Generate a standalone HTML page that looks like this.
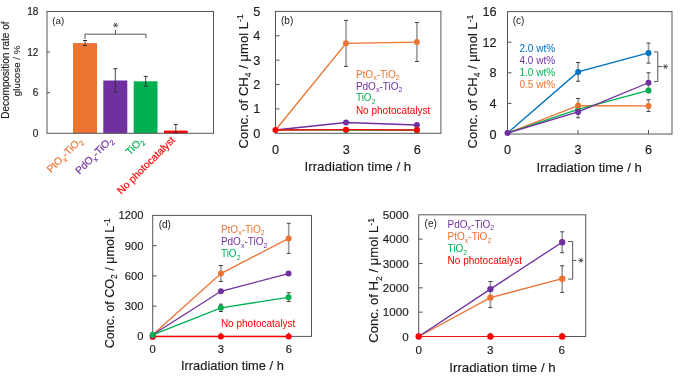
<!DOCTYPE html>
<html><head><meta charset="utf-8"><style>
html,body{margin:0;padding:0;background:#fff;}
svg{display:block;filter:blur(0.3px);}
text{font-family:"Liberation Sans",sans-serif;stroke-width:0.15px;}
</style></head><body>
<svg width="685" height="385" viewBox="0 0 685 385" font-family="Liberation Sans, sans-serif">
<rect width="685" height="385" fill="#fff"/>
<line x1="47" y1="92.70" x2="50" y2="92.70" stroke="#555555" stroke-width="1"/>
<line x1="47" y1="52.10" x2="50" y2="52.10" stroke="#555555" stroke-width="1"/>
<text x="38.3" y="136.9" font-size="10" fill="#1a1a1a" stroke="#1a1a1a" text-anchor="end" >0</text>
<text x="38.3" y="96.3" font-size="10" fill="#1a1a1a" stroke="#1a1a1a" text-anchor="end" >6</text>
<text x="38.3" y="55.7" font-size="10" fill="#1a1a1a" stroke="#1a1a1a" text-anchor="end" >12</text>
<text x="38.3" y="15.1" font-size="10" fill="#1a1a1a" stroke="#1a1a1a" text-anchor="end" >18</text>
<rect x="73" y="43.1" width="24.0" height="90.2" fill="#EB7433"/>
<rect x="103.3" y="80.5" width="24.0" height="52.8" fill="#7030A0"/>
<rect x="133.7" y="81.3" width="23.8" height="52.0" fill="#00B050"/>
<rect x="164" y="130.6" width="23.7" height="2.7" fill="#FF0000"/>
<rect x="47" y="11.5" width="166.5" height="121.80000000000001" fill="none" stroke="#555555" stroke-width="1"/>
<line x1="85" y1="40.5" x2="85" y2="45.5" stroke="#333" stroke-width="0.9"/>
<line x1="83" y1="40.5" x2="87" y2="40.5" stroke="#333" stroke-width="1"/>
<line x1="83" y1="45.5" x2="87" y2="45.5" stroke="#333" stroke-width="1"/>
<line x1="115.3" y1="68.7" x2="115.3" y2="92.3" stroke="#333" stroke-width="0.9"/>
<line x1="113.3" y1="68.7" x2="117.3" y2="68.7" stroke="#333" stroke-width="1"/>
<line x1="113.3" y1="92.3" x2="117.3" y2="92.3" stroke="#333" stroke-width="1"/>
<line x1="145.7" y1="76.4" x2="145.7" y2="86.2" stroke="#333" stroke-width="0.9"/>
<line x1="143.7" y1="76.4" x2="147.7" y2="76.4" stroke="#333" stroke-width="1"/>
<line x1="143.7" y1="86.2" x2="147.7" y2="86.2" stroke="#333" stroke-width="1"/>
<line x1="175.8" y1="124.4" x2="175.8" y2="133" stroke="#333" stroke-width="0.9"/>
<line x1="173.8" y1="124.4" x2="177.8" y2="124.4" stroke="#333" stroke-width="1"/>
<line x1="173.8" y1="133" x2="177.8" y2="133" stroke="#333" stroke-width="1"/>
<path d="M85,39 V34.2 H146 V38.2 M115.5,34.2 V29.8" fill="none" stroke="#555555" stroke-width="1"/>
<path d="M113.00,25.20 L118.20,25.20 M114.30,22.95 L116.90,27.45 M116.90,22.95 L114.30,27.45 " stroke="#444" stroke-width="0.9" fill="none"/>
<text x="52.3" y="23.9" font-size="9.8" fill="#1a1a1a"  text-anchor="start" >(a)</text>
<text transform="translate(8.7,70.1) rotate(-90)" font-size="10" fill="#1a1a1a" stroke="#1a1a1a" text-anchor="middle">Decomposition rate of</text>
<text transform="translate(19.9,70.8) rotate(-90)" font-size="9.8" fill="#1a1a1a" stroke="#1a1a1a" text-anchor="middle">glucose / %</text>
<text transform="translate(82.8,141.5) rotate(-45)" font-size="10.3" fill="#EB7433" stroke="#EB7433" text-anchor="end">PtO<tspan font-size="7.21" dy="2.78">x</tspan><tspan dy="-2.78">-TiO</tspan><tspan font-size="7.21" dy="2.78">2</tspan></text>
<text transform="translate(113.3,141) rotate(-45)" font-size="10.3" fill="#7030A0" stroke="#7030A0" text-anchor="end">PdO<tspan font-size="7.21" dy="2.78">x</tspan><tspan dy="-2.78">-TiO</tspan><tspan font-size="7.21" dy="2.78">2</tspan></text>
<text transform="translate(144.2,141.5) rotate(-45)" font-size="10.3" fill="#00B050" stroke="#00B050" text-anchor="end">TiO<tspan font-size="7.21" dy="2.78">2</tspan></text>
<text transform="translate(175.6,140.6) rotate(-45)" font-size="10.3" fill="#FF0000" stroke="#FF0000" text-anchor="end">No photocatalyst</text>
<line x1="275.5" y1="108.92" x2="279.5" y2="108.92" stroke="#555555" stroke-width="1"/>
<line x1="275.5" y1="84.54" x2="279.5" y2="84.54" stroke="#555555" stroke-width="1"/>
<line x1="275.5" y1="60.16" x2="279.5" y2="60.16" stroke="#555555" stroke-width="1"/>
<line x1="275.5" y1="35.78" x2="279.5" y2="35.78" stroke="#555555" stroke-width="1"/>
<line x1="346.39" y1="133.3" x2="346.39" y2="129.3" stroke="#555555" stroke-width="1"/>
<line x1="417.27" y1="133.3" x2="417.27" y2="129.3" stroke="#555555" stroke-width="1"/>
<rect x="275.5" y="11.4" width="165.39999999999998" height="121.9" fill="none" stroke="#555555" stroke-width="1"/>
<text x="260.2" y="137.8" font-size="12.7" fill="#1a1a1a" stroke="#1a1a1a" text-anchor="end" >0</text>
<text x="260.2" y="113.42" font-size="12.7" fill="#1a1a1a" stroke="#1a1a1a" text-anchor="end" >1</text>
<text x="260.2" y="89.04" font-size="12.7" fill="#1a1a1a" stroke="#1a1a1a" text-anchor="end" >2</text>
<text x="260.2" y="64.66" font-size="12.7" fill="#1a1a1a" stroke="#1a1a1a" text-anchor="end" >3</text>
<text x="260.2" y="40.28" font-size="12.7" fill="#1a1a1a" stroke="#1a1a1a" text-anchor="end" >4</text>
<text x="260.2" y="15.9" font-size="12.7" fill="#1a1a1a" stroke="#1a1a1a" text-anchor="end" >5</text>
<text x="275.5" y="153.7" font-size="12.7" fill="#1a1a1a" stroke="#1a1a1a" text-anchor="middle" >0</text>
<text x="346.39" y="153.7" font-size="12.7" fill="#1a1a1a" stroke="#1a1a1a" text-anchor="middle" >3</text>
<text x="417.27" y="153.7" font-size="12.7" fill="#1a1a1a" stroke="#1a1a1a" text-anchor="middle" >6</text>
<text x="357.9" y="171.3" font-size="13.35" fill="#1a1a1a" stroke="#1a1a1a" text-anchor="middle" >Irradiation time / h</text>
<text transform="translate(247.6,81.4) rotate(-90)" font-size="13.1" fill="#1a1a1a" stroke="#1a1a1a" text-anchor="middle">Conc. of CH<tspan font-size="8.65" dy="3.41">4</tspan><tspan dy="-3.41"> / μmol L</tspan><tspan font-size="8.65" dy="-4.32">-1</tspan></text>
<text x="281" y="24.2" font-size="10" fill="#1a1a1a"  text-anchor="start" >(b)</text>
<line x1="346" y1="20.4" x2="346" y2="66.4" stroke="#9a9a9a" stroke-width="1.6"/>
<line x1="344.0" y1="20.4" x2="348.0" y2="20.4" stroke="#404040" stroke-width="1"/>
<line x1="344.0" y1="66.4" x2="348.0" y2="66.4" stroke="#404040" stroke-width="1"/>
<line x1="416.9" y1="22.5" x2="416.9" y2="61.5" stroke="#9a9a9a" stroke-width="1.6"/>
<line x1="414.9" y1="22.5" x2="418.9" y2="22.5" stroke="#404040" stroke-width="1"/>
<line x1="414.9" y1="61.5" x2="418.9" y2="61.5" stroke="#404040" stroke-width="1"/>
<polyline points="275.5,130 346,43.3 416.9,42.1" fill="none" stroke="#EB7433" stroke-width="1.35"/>
<polyline points="275.5,130 346,122.5 416.9,125" fill="none" stroke="#7030A0" stroke-width="1.35"/>
<polyline points="275.5,129.9 346,130.1 416.9,130.4" fill="none" stroke="#00B050" stroke-width="1.35"/>
<polyline points="275.5,130 346,129.7 416.9,130" fill="none" stroke="#FF0000" stroke-width="1.35"/>
<circle cx="346" cy="43.3" r="3" fill="#EB7433"/>
<circle cx="416.9" cy="42.1" r="3" fill="#EB7433"/>
<circle cx="346" cy="122.5" r="3" fill="#7030A0"/>
<circle cx="416.9" cy="125" r="3" fill="#7030A0"/>
<circle cx="346" cy="130.1" r="3" fill="#00B050"/>
<circle cx="416.9" cy="130.4" r="3" fill="#00B050"/>
<circle cx="275.5" cy="130" r="3" fill="#FF0000"/>
<circle cx="346" cy="129.7" r="3" fill="#FF0000"/>
<circle cx="416.9" cy="130" r="3" fill="#FF0000"/>
<text x="355.9" y="77.7" font-size="10" fill="#EB7433"  text-anchor="start" >PtO<tspan font-size="7.00" dy="2.70">x</tspan><tspan dy="-2.70">-TiO</tspan><tspan font-size="7.00" dy="2.70">2</tspan></text>
<text x="355.9" y="89.5" font-size="10" fill="#7030A0"  text-anchor="start" >PdO<tspan font-size="7.00" dy="2.70">x</tspan><tspan dy="-2.70">-TiO</tspan><tspan font-size="7.00" dy="2.70">2</tspan></text>
<text x="355.9" y="101.1" font-size="10" fill="#00B050"  text-anchor="start" >TiO<tspan font-size="7.00" dy="2.70">2</tspan></text>
<text x="355.9" y="114.2" font-size="10" fill="#FF0000"  text-anchor="start" >No photocatalyst</text>
<line x1="507.5" y1="103.40" x2="511.5" y2="103.40" stroke="#555555" stroke-width="1"/>
<line x1="507.5" y1="72.80" x2="511.5" y2="72.80" stroke="#555555" stroke-width="1"/>
<line x1="507.5" y1="42.20" x2="511.5" y2="42.20" stroke="#555555" stroke-width="1"/>
<line x1="578.00" y1="134" x2="578.00" y2="130" stroke="#555555" stroke-width="1"/>
<line x1="648.50" y1="134" x2="648.50" y2="130" stroke="#555555" stroke-width="1"/>
<rect x="507.5" y="11.6" width="164.5" height="122.4" fill="none" stroke="#555555" stroke-width="1"/>
<text x="496.6" y="138.5" font-size="12.7" fill="#1a1a1a" stroke="#1a1a1a" text-anchor="end" >0</text>
<text x="496.6" y="107.9" font-size="12.7" fill="#1a1a1a" stroke="#1a1a1a" text-anchor="end" >4</text>
<text x="496.6" y="77.3" font-size="12.7" fill="#1a1a1a" stroke="#1a1a1a" text-anchor="end" >8</text>
<text x="496.6" y="46.7" font-size="12.7" fill="#1a1a1a" stroke="#1a1a1a" text-anchor="end" >12</text>
<text x="496.6" y="16.1" font-size="12.7" fill="#1a1a1a" stroke="#1a1a1a" text-anchor="end" >16</text>
<text x="507.5" y="154.0" font-size="12.7" fill="#1a1a1a" stroke="#1a1a1a" text-anchor="middle" >0</text>
<text x="578.0" y="154.0" font-size="12.7" fill="#1a1a1a" stroke="#1a1a1a" text-anchor="middle" >3</text>
<text x="648.5" y="154.0" font-size="12.7" fill="#1a1a1a" stroke="#1a1a1a" text-anchor="middle" >6</text>
<text x="589.2" y="172.2" font-size="13.15" fill="#1a1a1a" stroke="#1a1a1a" text-anchor="middle" >Irradiation time / h</text>
<text transform="translate(476.8,81.5) rotate(-90)" font-size="13.05" fill="#1a1a1a" stroke="#1a1a1a" text-anchor="middle">Conc. of CH<tspan font-size="8.61" dy="3.39">4</tspan><tspan dy="-3.39"> / μmol L</tspan><tspan font-size="8.61" dy="-4.31">-1</tspan></text>
<text x="512.7" y="24.4" font-size="10" fill="#1a1a1a"  text-anchor="start" >(c)</text>
<line x1="578.1" y1="62.5" x2="578.1" y2="81.25" stroke="#9a9a9a" stroke-width="1.6"/>
<line x1="576.1" y1="62.5" x2="580.1" y2="62.5" stroke="#404040" stroke-width="1"/>
<line x1="576.1" y1="81.25" x2="580.1" y2="81.25" stroke="#404040" stroke-width="1"/>
<line x1="648.5" y1="43.1" x2="648.5" y2="63.1" stroke="#9a9a9a" stroke-width="1.6"/>
<line x1="646.5" y1="43.1" x2="650.5" y2="43.1" stroke="#404040" stroke-width="1"/>
<line x1="646.5" y1="63.1" x2="650.5" y2="63.1" stroke="#404040" stroke-width="1"/>
<line x1="578.1" y1="98.5" x2="578.1" y2="117.75" stroke="#9a9a9a" stroke-width="1.6"/>
<line x1="576.1" y1="98.5" x2="580.1" y2="98.5" stroke="#404040" stroke-width="1"/>
<line x1="576.1" y1="117.75" x2="580.1" y2="117.75" stroke="#404040" stroke-width="1"/>
<line x1="648.5" y1="72.75" x2="648.5" y2="92.75" stroke="#9a9a9a" stroke-width="1.6"/>
<line x1="646.5" y1="72.75" x2="650.5" y2="72.75" stroke="#404040" stroke-width="1"/>
<line x1="646.5" y1="92.75" x2="650.5" y2="92.75" stroke="#404040" stroke-width="1"/>
<line x1="648.5" y1="99.75" x2="648.5" y2="111.5" stroke="#9a9a9a" stroke-width="1.6"/>
<line x1="646.5" y1="99.75" x2="650.5" y2="99.75" stroke="#404040" stroke-width="1"/>
<line x1="646.5" y1="111.5" x2="650.5" y2="111.5" stroke="#404040" stroke-width="1"/>
<polyline points="507.5,133.1 578.1,71.9 648.5,52.9" fill="none" stroke="#0070C0" stroke-width="1.35"/>
<polyline points="507.5,133.1 578.1,105.6 648.5,105.9" fill="none" stroke="#EB7433" stroke-width="1.35"/>
<polyline points="507.5,133.1 578.1,109.4 648.5,90.4" fill="none" stroke="#00B050" stroke-width="1.35"/>
<polyline points="507.5,133.1 578.1,111.9 648.5,82.75" fill="none" stroke="#7030A0" stroke-width="1.35"/>
<circle cx="578.1" cy="71.9" r="3" fill="#0070C0"/>
<circle cx="648.5" cy="52.9" r="3" fill="#0070C0"/>
<circle cx="578.1" cy="109.4" r="3" fill="#00B050"/>
<circle cx="648.5" cy="90.4" r="3" fill="#00B050"/>
<circle cx="578.1" cy="105.6" r="3" fill="#EB7433"/>
<circle cx="648.5" cy="105.9" r="3" fill="#EB7433"/>
<circle cx="507.5" cy="133.1" r="3" fill="#7030A0"/>
<circle cx="578.1" cy="111.9" r="3" fill="#7030A0"/>
<circle cx="648.5" cy="82.75" r="3" fill="#7030A0"/>
<path d="M654,51.9 H657.8 V81.5 H654 M657.8,66.6 H662" fill="none" stroke="#555" stroke-width="1"/>
<path d="M662.80,66.60 L668.00,66.60 M664.10,64.35 L666.70,68.85 M666.70,64.35 L664.10,68.85 " stroke="#444" stroke-width="0.9" fill="none"/>
<text x="519.5" y="52.15" font-size="10" fill="#0070C0"  text-anchor="start" >2.0 wt%</text>
<text x="519.5" y="64.05" font-size="10" fill="#7030A0"  text-anchor="start" >4.0 wt%</text>
<text x="519.5" y="76.15" font-size="10" fill="#00B050"  text-anchor="start" >1.0 wt%</text>
<text x="519.5" y="88.25" font-size="10" fill="#EB7433"  text-anchor="start" >0.5 wt%</text>
<line x1="152.7" y1="306.15" x2="156.7" y2="306.15" stroke="#555555" stroke-width="1"/>
<line x1="152.7" y1="275.90" x2="156.7" y2="275.90" stroke="#555555" stroke-width="1"/>
<line x1="152.7" y1="245.65" x2="156.7" y2="245.65" stroke="#555555" stroke-width="1"/>
<line x1="220.76" y1="336.4" x2="220.76" y2="332.4" stroke="#555555" stroke-width="1"/>
<line x1="288.81" y1="336.4" x2="288.81" y2="332.4" stroke="#555555" stroke-width="1"/>
<rect x="152.7" y="215.4" width="158.8" height="120.99999999999997" fill="none" stroke="#555555" stroke-width="1"/>
<text x="143.4" y="340.4" font-size="11.2" fill="#1a1a1a" stroke="#1a1a1a" text-anchor="end" >0</text>
<text x="143.4" y="310.15" font-size="11.2" fill="#1a1a1a" stroke="#1a1a1a" text-anchor="end" >300</text>
<text x="143.4" y="279.9" font-size="11.2" fill="#1a1a1a" stroke="#1a1a1a" text-anchor="end" >600</text>
<text x="143.4" y="249.65" font-size="11.2" fill="#1a1a1a" stroke="#1a1a1a" text-anchor="end" >900</text>
<text x="143.4" y="219.4" font-size="11.2" fill="#1a1a1a" stroke="#1a1a1a" text-anchor="end" >1200</text>
<text x="152.7" y="353.4" font-size="11.2" fill="#1a1a1a" stroke="#1a1a1a" text-anchor="middle" >0</text>
<text x="220.76" y="353.4" font-size="11.2" fill="#1a1a1a" stroke="#1a1a1a" text-anchor="middle" >3</text>
<text x="288.81" y="353.4" font-size="11.2" fill="#1a1a1a" stroke="#1a1a1a" text-anchor="middle" >6</text>
<text x="232.4" y="370.3" font-size="12.87" fill="#1a1a1a" stroke="#1a1a1a" text-anchor="middle" >Irradiation time / h</text>
<text transform="translate(113.7,283.3) rotate(-90)" font-size="12.6" fill="#1a1a1a" stroke="#1a1a1a" text-anchor="middle">Conc. of CO<tspan font-size="8.32" dy="3.28">2</tspan><tspan dy="-3.28"> / μmol L</tspan><tspan font-size="8.32" dy="-4.16">-1</tspan></text>
<text x="158.7" y="228.3" font-size="10" fill="#1a1a1a"  text-anchor="start" >(d)</text>
<line x1="220.9" y1="265.5" x2="220.9" y2="281.5" stroke="#9a9a9a" stroke-width="1.6"/>
<line x1="218.9" y1="265.5" x2="222.9" y2="265.5" stroke="#404040" stroke-width="1"/>
<line x1="218.9" y1="281.5" x2="222.9" y2="281.5" stroke="#404040" stroke-width="1"/>
<line x1="288.7" y1="223.3" x2="288.7" y2="253.4" stroke="#9a9a9a" stroke-width="1.6"/>
<line x1="286.7" y1="223.3" x2="290.7" y2="223.3" stroke="#404040" stroke-width="1"/>
<line x1="286.7" y1="253.4" x2="290.7" y2="253.4" stroke="#404040" stroke-width="1"/>
<line x1="220.9" y1="304.2" x2="220.9" y2="311.5" stroke="#9a9a9a" stroke-width="1.6"/>
<line x1="218.9" y1="304.2" x2="222.9" y2="304.2" stroke="#404040" stroke-width="1"/>
<line x1="218.9" y1="311.5" x2="222.9" y2="311.5" stroke="#404040" stroke-width="1"/>
<line x1="288.7" y1="292.7" x2="288.7" y2="301.5" stroke="#9a9a9a" stroke-width="1.6"/>
<line x1="286.7" y1="292.7" x2="290.7" y2="292.7" stroke="#404040" stroke-width="1"/>
<line x1="286.7" y1="301.5" x2="290.7" y2="301.5" stroke="#404040" stroke-width="1"/>
<polyline points="152.7,334.8 220.9,273.6 288.7,238.4" fill="none" stroke="#EB7433" stroke-width="1.35"/>
<polyline points="152.7,334.8 220.9,291.3 288.5,273.6" fill="none" stroke="#7030A0" stroke-width="1.35"/>
<polyline points="152.7,334.8 220.9,307.8 288.5,297.3" fill="none" stroke="#00B050" stroke-width="1.35"/>
<polyline points="152.7,336.5 220.9,336.5 288.7,336.5" fill="none" stroke="#FF0000" stroke-width="1.35"/>
<circle cx="152.7" cy="337" r="3" fill="#FF0000"/>
<circle cx="220.9" cy="336.5" r="3" fill="#FF0000"/>
<circle cx="288.7" cy="336.5" r="3" fill="#FF0000"/>
<circle cx="220.9" cy="273.6" r="3" fill="#EB7433"/>
<circle cx="288.7" cy="238.4" r="3" fill="#EB7433"/>
<circle cx="152.7" cy="335.5" r="3" fill="#7030A0"/>
<circle cx="220.9" cy="291.3" r="3" fill="#7030A0"/>
<circle cx="288.5" cy="273.6" r="3" fill="#7030A0"/>
<circle cx="152.7" cy="334.8" r="3" fill="#00B050"/>
<circle cx="220.9" cy="307.8" r="3" fill="#00B050"/>
<circle cx="288.5" cy="297.3" r="3" fill="#00B050"/>
<text x="220.9" y="232.5" font-size="10" fill="#EB7433"  text-anchor="start" >PtO<tspan font-size="7.00" dy="2.70">x</tspan><tspan dy="-2.70">-TiO</tspan><tspan font-size="7.00" dy="2.70">2</tspan></text>
<text x="220.9" y="245.2" font-size="10" fill="#7030A0"  text-anchor="start" >PdO<tspan font-size="7.00" dy="2.70">x</tspan><tspan dy="-2.70">-TiO</tspan><tspan font-size="7.00" dy="2.70">2</tspan></text>
<text x="220.9" y="257.1" font-size="10" fill="#00B050"  text-anchor="start" >TiO<tspan font-size="7.00" dy="2.70">2</tspan></text>
<text x="220.9" y="327.4" font-size="10" fill="#FF0000"  text-anchor="start" >No photocatalyst</text>
<line x1="418.7" y1="312.16" x2="422.7" y2="312.16" stroke="#555555" stroke-width="1"/>
<line x1="418.7" y1="287.82" x2="422.7" y2="287.82" stroke="#555555" stroke-width="1"/>
<line x1="418.7" y1="263.48" x2="422.7" y2="263.48" stroke="#555555" stroke-width="1"/>
<line x1="418.7" y1="239.14" x2="422.7" y2="239.14" stroke="#555555" stroke-width="1"/>
<line x1="490.27" y1="336.5" x2="490.27" y2="332.5" stroke="#555555" stroke-width="1"/>
<line x1="561.84" y1="336.5" x2="561.84" y2="332.5" stroke="#555555" stroke-width="1"/>
<rect x="418.7" y="214.8" width="167.00000000000006" height="121.69999999999999" fill="none" stroke="#555555" stroke-width="1"/>
<text x="408.6" y="340.65" font-size="11.6" fill="#1a1a1a" stroke="#1a1a1a" text-anchor="end" >0</text>
<text x="408.6" y="316.31" font-size="11.6" fill="#1a1a1a" stroke="#1a1a1a" text-anchor="end" >1000</text>
<text x="408.6" y="291.97" font-size="11.6" fill="#1a1a1a" stroke="#1a1a1a" text-anchor="end" >2000</text>
<text x="408.6" y="267.63" font-size="11.6" fill="#1a1a1a" stroke="#1a1a1a" text-anchor="end" >3000</text>
<text x="408.6" y="243.29" font-size="11.6" fill="#1a1a1a" stroke="#1a1a1a" text-anchor="end" >4000</text>
<text x="408.6" y="218.95" font-size="11.6" fill="#1a1a1a" stroke="#1a1a1a" text-anchor="end" >5000</text>
<text x="418.7" y="353.8" font-size="11.6" fill="#1a1a1a" stroke="#1a1a1a" text-anchor="middle" >0</text>
<text x="490.27" y="353.8" font-size="11.6" fill="#1a1a1a" stroke="#1a1a1a" text-anchor="middle" >3</text>
<text x="561.84" y="353.8" font-size="11.6" fill="#1a1a1a" stroke="#1a1a1a" text-anchor="middle" >6</text>
<text x="502.5" y="371.8" font-size="13.3" fill="#1a1a1a" stroke="#1a1a1a" text-anchor="middle" >Irradiation time / h</text>
<text transform="translate(378.2,280.4) rotate(-90)" font-size="13.1" fill="#1a1a1a" stroke="#1a1a1a" text-anchor="middle">Conc. of H<tspan font-size="8.65" dy="3.41">2</tspan><tspan dy="-3.41"> / μmol L</tspan><tspan font-size="8.65" dy="-4.32">-1</tspan></text>
<text x="424.6" y="227.2" font-size="10" fill="#1a1a1a"  text-anchor="start" >(e)</text>
<line x1="490.4" y1="281.5" x2="490.4" y2="307.6" stroke="#9a9a9a" stroke-width="1.6"/>
<line x1="488.4" y1="281.5" x2="492.4" y2="281.5" stroke="#404040" stroke-width="1"/>
<line x1="488.4" y1="307.6" x2="492.4" y2="307.6" stroke="#404040" stroke-width="1"/>
<line x1="562.2" y1="231.8" x2="562.2" y2="252.7" stroke="#9a9a9a" stroke-width="1.6"/>
<line x1="560.2" y1="231.8" x2="564.2" y2="231.8" stroke="#404040" stroke-width="1"/>
<line x1="560.2" y1="252.7" x2="564.2" y2="252.7" stroke="#404040" stroke-width="1"/>
<line x1="562.2" y1="265.8" x2="562.2" y2="292.4" stroke="#9a9a9a" stroke-width="1.6"/>
<line x1="560.2" y1="265.8" x2="564.2" y2="265.8" stroke="#404040" stroke-width="1"/>
<line x1="560.2" y1="292.4" x2="564.2" y2="292.4" stroke="#404040" stroke-width="1"/>
<polyline points="418.7,336.5 490.4,297.6 562.2,278.7" fill="none" stroke="#EB7433" stroke-width="1.35"/>
<polyline points="418.7,336.5 490.4,289.1 562.2,242.2" fill="none" stroke="#7030A0" stroke-width="1.35"/>
<polyline points="418.7,336.5 490.4,336.5 562.2,336.5" fill="none" stroke="#E81818" stroke-width="1.2"/>
<circle cx="490.4" cy="297.6" r="3.2" fill="#EB7433"/>
<circle cx="562.2" cy="278.7" r="3.2" fill="#EB7433"/>
<circle cx="490.4" cy="289.1" r="3.2" fill="#7030A0"/>
<circle cx="562.2" cy="242.2" r="3.2" fill="#7030A0"/>
<circle cx="418.7" cy="336.5" r="3.2" fill="#FF0000"/>
<circle cx="490.4" cy="336.5" r="3.2" fill="#FF0000"/>
<circle cx="562.2" cy="336.5" r="3.2" fill="#FF0000"/>
<path d="M568.2,241.5 H572.7 V279.1 H568.2 M572.7,260.4 H576.4" fill="none" stroke="#555" stroke-width="1"/>
<path d="M578.30,260.40 L583.50,260.40 M579.60,258.15 L582.20,262.65 M582.20,258.15 L579.60,262.65 " stroke="#444" stroke-width="0.9" fill="none"/>
<text x="447.6" y="227.5" font-size="10" fill="#7030A0"  text-anchor="start" >PdO<tspan font-size="7.00" dy="2.70">x</tspan><tspan dy="-2.70">-TiO</tspan><tspan font-size="7.00" dy="2.70">2</tspan></text>
<text x="447.6" y="239.9" font-size="10" fill="#EB7433"  text-anchor="start" >PtO<tspan font-size="7.00" dy="2.70">x</tspan><tspan dy="-2.70">-TiO</tspan><tspan font-size="7.00" dy="2.70">2</tspan></text>
<text x="447.6" y="252.1" font-size="10" fill="#00B050"  text-anchor="start" >TiO<tspan font-size="7.00" dy="2.70">2</tspan></text>
<text x="447.6" y="263.9" font-size="10" fill="#FF0000"  text-anchor="start" >No photocatalyst</text>
</svg>
</body></html>
